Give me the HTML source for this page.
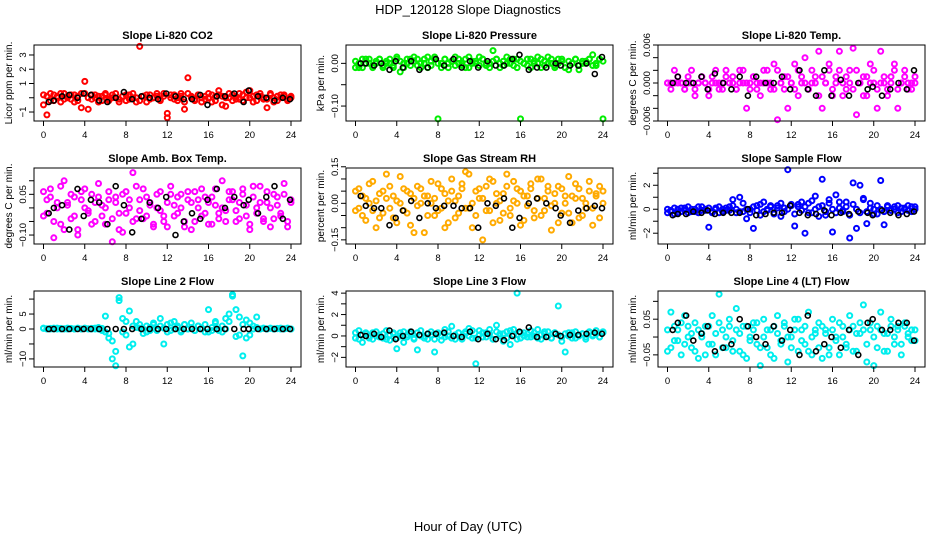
<!DOCTYPE html>
<html><head><meta charset="utf-8"><style>
html,body{margin:0;padding:0;background:#fff}
svg{display:block;font-family:"Liberation Sans",sans-serif}
</style></head><body>
<svg id="chart" width="936" height="540" viewBox="0 0 936 540">
<text x="468" y="14" text-anchor="middle" font-size="13">HDP_120128  Slope Diagnostics</text>
<text x="468" y="531" text-anchor="middle" font-size="13">Hour of Day (UTC)</text>
</svg>
<script>
const hc=[0,0.33,0.67,1,1.33,1.67,2,2.33,2.67,3,3.33,3.67,4,4.33,4.67,5,5.33,5.67,6,6.33,6.67,7,7.33,7.67,8,8.33,8.67,9,9.33,9.67,10,10.33,10.67,11,11.33,11.67,12,12.33,12.67,13,13.33,13.67,14,14.33,14.67,15,15.33,15.67,16,16.33,16.67,17,17.33,17.67,18,18.33,18.67,19,19.33,19.67,20,20.33,20.67,21,21.33,21.67,22,22.33,22.67,23,23.33,23.67,24];
const hb=[0.5,1.0,1.8,2.5,3.3,3.9,4.6,5.4,6.2,7.0,7.8,8.6,9.5,10.3,11.1,11.9,12.8,13.6,14.4,15.2,15.9,16.8,17.6,18.5,19.4,19.9,20.8,21.6,22.4,23.2,23.9];

const co2A=[-0.5,0.1,-0.2,0.2,0.0,-0.3,0.3,0.1,-0.1,0.2,-0.2,0.3,1.15,0.0,-0.1,0.2,-0.3,0.1,0.2,-0.2,0.0,0.3,-0.1,0.1,-0.2,0.2,0.0,-0.3,3.6,0.1,0.2,-0.1,0.0,0.3,-0.2,0.1,-1.1,0.2,-0.1,0.0,0.3,-0.3,1.4,0.1,-0.2,0.2,0.0,-0.1,0.3,-0.3,0.1,0.2,-0.5,0.0,0.3,-0.2,0.1,-0.1,0.2,0.4,0.0,-0.3,0.2,0.1,-0.1,-0.7,0.3,0.0,-0.2,0.2,0.1,-0.1,0.0];
const co2B=[0.2,-1.2,0.3,-0.2,0.1,0.3,-0.1,0.0,0.2,-0.3,0.1,-0.7,0.3,-0.8,0.2,0.0,0.1,-0.2,0.3,-0.1,0.2,0.0,-0.3,0.1,0.2,-0.1,0.3,0.0,-0.2,0.1,-0.3,0.2,0.0,0.1,-0.1,0.3,-1.4,0.0,0.2,-0.2,0.1,-0.8,0.3,0.0,-0.1,0.2,-0.3,0.1,0.0,0.2,-0.2,0.5,0.1,-0.6,0.0,0.2,-0.1,0.3,-0.2,0.0,0.5,0.1,-0.2,0.3,0.0,-0.1,0.2,-0.3,0.1,0.0,0.2,-0.2,0.1];
const co2K=[-0.3,-0.2,0.1,0.2,0.0,0.3,0.2,-0.2,-0.3,0.0,0.4,-0.1,0.1,0.0,-0.1,0.3,0.1,-0.1,-0.1,0.2,-0.5,0.1,0.1,0.3,-0.3,0.5,0.1,0.0,-0.2,0.0,-0.1];

const presA=[-0.01,0.0,-0.01,0.01,0.0,-0.01,0.005,0.01,-0.005,0.0,0.01,-0.01,0.015,-0.02,0.0,0.01,-0.005,0.005,0.01,-0.01,0.0,0.015,-0.005,0.01,-0.13,0.0,0.01,-0.01,0.005,0.015,0.0,-0.005,0.01,-0.01,0.005,0.0,0.015,0.01,-0.005,0.0,0.03,0.01,-0.01,0.005,0.0,0.01,-0.005,0.01,-0.13,0.0,0.01,-0.01,0.005,0.0,0.01,-0.005,0.015,0.0,-0.01,0.01,0.005,-0.01,-0.015,0.0,0.01,-0.005,0.005,0.0,0.01,0.02,-0.005,0.01,-0.13];
const presB=[0.005,-0.01,0.01,0.0,0.01,-0.005,0.0,0.01,-0.01,0.005,0.0,-0.005,0.01,0.005,-0.01,0.0,0.01,0.015,-0.005,0.0,0.01,-0.01,0.005,0.015,0.0,-0.01,0.01,0.0,0.005,-0.005,0.01,0.0,-0.01,0.015,0.0,0.005,-0.005,0.01,0.0,-0.01,0.005,0.01,0.0,-0.005,0.015,0.0,0.01,-0.01,0.005,0.0,-0.005,0.01,0.0,0.015,-0.01,0.005,0.0,0.01,-0.005,0.0,0.01,-0.01,0.005,0.0,0.01,-0.015,0.0,0.005,0.01,-0.005,0.0,0.01,0.005];
const presK=[0.0,0.0,-0.005,0.0,-0.015,0.005,-0.01,0.005,-0.015,-0.01,0.01,-0.005,0.01,-0.01,0.005,-0.01,0.005,-0.005,-0.005,0.01,0.02,-0.015,-0.01,-0.01,0.0,-0.005,-0.005,-0.005,0.0,-0.025,0.015];

const tempA=[0,0,0.002,0,0,-0.001,0.001,0,-0.002,0,0.001,0,-0.001,0,0.002,0,-0.001,0.001,0,0,-0.001,0.002,0,-0.004,0,0.001,-0.001,0,0.002,0,-0.001,0.003,-0.0058,0,0.001,-0.004,0,-0.001,0.002,0,0.004,-0.001,0,0.001,0.005,-0.004,0,0.002,-0.002,0.001,0.005,0,-0.001,0.002,0.0055,-0.005,0,0.001,-0.002,0.003,0,-0.004,0.005,0,-0.001,0.001,0.003,-0.004,0,0.002,-0.001,0,0.001];
const tempB=[0,-0.001,0,0.001,0,-0.001,0,0.002,-0.001,0,0.001,0,-0.002,0.001,0,-0.001,0,0.002,0,0.001,-0.001,0,0.002,0,-0.001,0.001,0,-0.002,0,0.002,0,-0.001,0.002,0,-0.001,0.001,0,0.003,-0.002,0.001,0,-0.001,0.002,0,-0.002,0.001,0,0.003,-0.001,0,0.002,-0.002,0.001,0,-0.001,0.002,0,-0.002,0.001,0,0.002,-0.001,0,0.001,-0.002,0,0.002,-0.001,0,0.001,0,-0.001,0];
const tempK=[0,0.001,0,0,0.001,-0.001,0.0015,0,-0.001,0.001,-0.002,0.001,0,0,0.001,-0.001,0.002,-0.001,-0.002,0.002,-0.002,0.0005,-0.002,0,-0.001,-0.0006,-0.002,-0.001,0,-0.001,0.002];

const ambA=[-0.03,0.03,0.07,-0.11,0.0,-0.06,0.1,0.02,-0.04,0.04,-0.08,0.06,0.0,-0.02,0.05,-0.05,0.09,0.01,-0.06,0.03,-0.125,0.04,-0.02,-0.09,0.06,0.0,0.13,-0.04,0.03,0.07,-0.03,0.01,-0.07,0.05,-0.01,-0.05,0.02,0.08,-0.03,0.04,0.0,-0.07,0.06,0.02,-0.05,0.03,0.07,-0.02,-0.06,0.04,0.01,-0.04,0.1,-0.01,0.06,0.03,-0.05,0.02,0.07,-0.03,-0.08,0.04,0.0,0.08,-0.04,0.02,-0.07,0.05,0.01,-0.03,0.09,-0.05,0.03];
const ambB=[0.06,-0.02,0.04,-0.05,0.02,0.08,-0.08,0.01,0.05,-0.03,-0.1,0.03,0.07,-0.01,-0.06,0.02,0.04,-0.03,0.0,0.06,-0.04,0.02,-0.08,0.05,-0.02,0.03,-0.05,0.08,-0.01,-0.04,0.04,0.02,-0.06,0.0,0.06,-0.03,-0.07,0.05,0.01,-0.02,0.05,-0.05,0.03,-0.08,0.06,0.0,-0.03,0.04,0.02,-0.06,0.07,-0.02,0.0,-0.05,0.03,0.06,-0.01,-0.04,0.05,0.01,-0.06,0.08,-0.02,0.02,-0.05,0.06,0.0,-0.04,0.04,-0.02,0.05,-0.07,0.02];
const ambK=[-0.02,0.0,0.01,-0.08,0.07,-0.03,0.03,0.02,-0.06,0.08,0.01,-0.09,-0.04,0.02,0.0,0.04,-0.1,-0.05,-0.02,-0.04,0.03,0.07,0.0,0.04,0.01,0.03,-0.02,0.04,0.08,-0.04,0.03];

const rhA=[0.05,-0.02,0.03,-0.07,0.0,0.09,-0.1,0.04,-0.04,0.02,0.07,-0.06,0.01,0.11,-0.03,0.05,-0.09,0.02,-0.01,0.06,-0.12,0.03,0.0,-0.05,0.08,-0.02,0.04,-0.08,0.1,0.01,-0.04,0.06,0.13,-0.02,-0.1,0.05,0.02,-0.15,0.07,-0.03,0.09,0.0,-0.07,0.04,0.12,-0.05,0.01,0.06,-0.09,0.03,-0.01,0.08,-0.06,0.02,0.1,-0.03,0.05,-0.11,0.0,0.07,-0.04,0.03,0.11,-0.08,0.02,0.06,-0.05,0.0,0.09,-0.02,0.04,-0.06,0.05];
const rhB=[-0.03,0.06,-0.05,0.02,0.08,-0.03,0.01,-0.06,0.05,0.12,-0.02,0.03,-0.08,0.0,0.06,-0.04,0.04,-0.12,0.07,0.0,0.03,-0.05,0.09,0.02,-0.03,0.06,-0.1,0.01,0.05,-0.06,0.03,0.08,-0.02,0.12,0.0,-0.05,0.06,0.02,-0.03,0.1,-0.08,0.04,0.01,-0.04,0.07,-0.02,0.09,0.0,0.05,-0.07,0.03,0.06,-0.03,0.1,-0.05,0.02,0.07,-0.01,0.04,-0.08,0.06,0.0,-0.04,0.03,0.08,-0.06,0.02,-0.02,0.05,-0.09,0.03,0.07,0.0];
const rhK=[0.03,-0.01,-0.02,-0.02,-0.09,-0.06,-0.03,0.01,-0.06,0.0,-0.02,-0.01,-0.01,-0.02,-0.02,-0.1,0.0,-0.01,0.02,-0.1,-0.06,0.0,0.02,0.0,-0.02,-0.05,-0.08,-0.03,-0.02,-0.01,-0.02];

const sfA=[-0.3,-0.1,-0.4,0.0,-0.2,0.1,-0.3,0.0,-0.2,0.2,-0.1,0.0,-1.5,-0.2,0.1,-0.3,0.0,-0.1,0.2,0.8,-0.3,1.0,-0.2,-0.8,0.0,-1.6,0.3,-0.5,0.6,-0.1,0.2,-0.4,0.3,-0.6,0.1,3.3,0.4,-1.4,0.2,0.6,-2.0,0.5,-0.3,1.1,0.2,2.5,-0.5,0.8,-1.9,1.2,0.1,-0.2,0.6,-2.4,2.2,-1.6,2.0,0.8,-1.2,0.5,0.0,-0.4,2.4,-1.3,0.3,-0.1,0.2,-0.3,0.1,0.0,0.3,-0.2,0.2];
const sfB=[0.0,-0.2,0.1,-0.3,0.1,-0.1,0.2,-0.2,0.0,-0.3,0.2,-0.1,0.1,-0.3,0.0,0.2,-0.2,0.1,-0.1,0.3,0.0,-0.2,0.5,0.0,-0.3,0.2,-0.1,0.4,-0.2,0.0,0.3,-0.3,0.1,0.5,-0.2,0.0,0.3,-0.4,0.4,-0.1,0.2,-0.3,0.7,0.0,-0.6,0.3,-0.2,0.5,0.0,-0.3,0.6,-0.1,0.2,-0.5,0.4,0.0,-0.3,0.9,-0.2,0.1,-0.4,0.3,0.0,-0.2,0.2,-0.1,0.0,0.3,-0.2,0.1,-0.1,0.2,0.0];
const sfK=[-0.5,-0.4,-0.4,-0.2,-0.3,-0.1,-0.4,-0.3,-0.3,-0.3,0.0,-0.5,-0.4,-0.3,-0.3,0.3,-0.3,-0.5,-0.4,-0.1,-0.5,-0.3,-0.4,-0.2,-0.3,-0.5,-0.1,-0.3,-0.5,-0.4,-0.2];

const l2A=[0.3,0.0,0.2,0.0,0.3,0.0,0.1,0.0,0.2,0.0,0.3,0.0,0.2,0.1,0.0,0.3,0.0,0.2,4.3,-1.5,-4.0,-7.5,9.5,3.5,-2.0,6.0,-5.0,2.5,0.3,-1.5,1.0,-0.5,2.0,0.0,3.5,-5.0,1.5,-0.5,2.5,0.5,-1.0,1.5,0.0,2.0,-0.5,1.0,0.3,-1.0,6.5,-0.5,2.0,0.0,-1.0,3.5,2.5,11.5,-2.5,4.0,-9.0,3.0,-2.0,1.0,4.0,0.0,0.3,0.0,0.2,0.0,0.1,0.3,0.0,0.2,0.0];
const l2B=[0.2,0.1,0.0,0.3,0.0,0.2,0.0,0.3,0.1,0.0,0.2,0.0,0.3,0.0,0.2,0.0,0.5,-0.5,-1.0,-3.0,-10.0,-12.3,10.5,-1.0,2.5,-6.0,1.0,0.5,1.5,0.0,-1.0,0.5,1.5,-0.5,1.0,0.3,-1.0,2.0,0.0,1.0,-0.5,1.5,0.0,0.5,-0.5,1.0,0.0,1.5,-1.0,0.5,2.5,-0.5,1.0,0.0,5.0,11.0,6.5,-2.0,1.5,-3.0,2.0,0.0,0.5,0.0,0.2,0.0,0.3,0.0,0.2,0.0,0.1,0.3,0.0];
const l2K=[0,0,0,0,0,0,0,0,0,0,0,0,0,0,0,0,0,0,0,0,0,0,0,0,0,0,0,0,0,0,0];

const l3A=[-0.2,0.5,-0.6,0.3,0.0,-0.3,0.4,0.1,-0.2,0.5,-0.4,0.2,-1.2,0.3,-0.6,0.1,0.4,-0.2,-1.3,0.5,0.0,-0.3,0.4,-1.5,0.2,-0.4,0.6,0.0,0.9,-0.3,0.3,-0.1,0.4,0.7,-0.2,-2.6,0.5,-0.1,0.3,0.6,-0.3,1.0,0.2,-0.5,0.4,-0.8,0.6,4.0,-0.2,0.3,-0.1,0.5,0.0,0.6,-0.3,0.2,0.4,-0.2,0.3,2.8,-0.5,-1.5,0.3,-0.2,0.4,0.0,0.2,-0.3,0.4,0.1,0.5,-0.1,0.3];
const l3B=[0.3,-0.3,0.1,0.2,-0.2,0.3,0.0,-0.1,0.2,-0.3,0.1,0.3,-0.2,0.0,0.4,-0.1,0.2,-0.3,0.3,0.0,-0.2,0.2,0.1,-0.3,0.3,0.0,-0.1,0.4,-0.2,0.1,0.3,-0.3,0.2,0.0,0.5,-0.2,0.1,0.3,-0.1,0.2,-0.3,0.4,0.0,0.2,-0.2,0.5,0.1,-0.3,0.3,0.0,0.2,-0.1,0.3,-0.2,0.1,0.4,0.0,-0.2,0.3,0.1,-0.1,0.2,0.0,0.3,-0.2,0.1,0.2,-0.1,0.3,0.0,0.2,-0.1,0.4];
const l3K=[0.1,0.0,0.2,-0.1,0.5,-0.3,0.0,0.4,0.1,0.2,0.2,0.3,0.0,-0.1,0.4,-0.3,0.2,-0.3,-0.4,0.0,0.4,0.8,-0.1,-0.1,0.2,0.0,0.1,0.1,0.2,0.3,0.2];

const l4A=[-0.04,0.07,-0.01,0.02,-0.05,0.06,0.0,-0.03,0.04,-0.06,0.01,0.03,-0.02,0.06,-0.05,0.12,0.02,-0.03,0.05,-0.01,0.08,-0.04,0.03,-0.06,0.0,0.04,-0.02,-0.08,0.05,-0.03,0.02,-0.06,0.06,-0.01,0.03,-0.07,0.0,0.05,-0.04,0.02,-0.02,0.07,-0.05,0.01,0.04,-0.06,0.02,-0.03,0.05,0.0,-0.05,0.03,-0.02,0.06,-0.04,0.01,0.04,0.09,-0.07,0.02,-0.08,0.03,0.07,-0.04,0.01,0.05,-0.02,0.03,-0.05,0.04,0.0,0.02,-0.01];
const l4B=[0.02,-0.03,0.03,-0.01,0.04,-0.02,0.03,0.01,-0.04,0.02,0.0,-0.05,0.03,-0.02,0.01,0.04,-0.03,0.0,0.03,-0.04,0.02,0.01,-0.05,0.03,-0.01,0.02,0.04,-0.03,0.0,0.02,-0.05,0.03,0.01,-0.02,0.04,0.0,-0.03,0.02,0.05,-0.01,0.03,-0.04,0.0,0.02,-0.03,0.03,0.01,-0.05,0.02,-0.01,0.04,0.0,-0.03,0.02,0.03,-0.04,0.01,0.02,-0.02,0.04,0.0,-0.03,0.02,0.01,-0.04,0.03,0.0,0.02,-0.02,0.03,0.01,-0.01,0.02];
const l4K=[0.02,0.04,0.06,-0.01,0.01,0.03,-0.04,-0.03,-0.02,0.05,0.03,0.0,-0.02,0.03,-0.01,0.02,-0.05,0.06,-0.04,-0.02,0.0,-0.03,0.02,-0.05,0.04,0.05,0.02,0.02,0.04,0.04,-0.01];

const xTicks=[0,4,8,12,16,20,24];

const panels=[
 {name:'co2',title:'Slope Li-820 CO2',ylab:'Licor ppm per min.',col:0,row:0,ymin:-1.63,ymax:3.7,ticks:[-1,0,1,2,3],labels:['-1','','1','2','3'],color:'#ff0000',a:co2A,b:co2B,k:co2K},
 {name:'pressure',title:'Slope Li-820 Pressure',ylab:'kPa per min.',col:1,row:0,ymin:-0.135,ymax:0.043,ticks:[-0.1,-0.05,0],labels:['-0.10','','0.00'],color:'#00ee00',a:presA,b:presB,k:presK},
 {name:'temp',title:'Slope Li-820 Temp.',ylab:'degrees C per min.',col:2,row:0,ymin:-0.006,ymax:0.006,ticks:[-0.006,-0.004,-0.002,0,0.002,0.004,0.006],labels:['-0.006','','','0.000','','','0.006'],color:'#ff00ff',a:tempA,b:tempB,k:tempK},
 {name:'amb-box-temp',title:'Slope Amb. Box Temp.',ylab:'degrees C per min.',col:0,row:1,ymin:-0.133,ymax:0.147,ticks:[-0.1,-0.05,0,0.05,0.1],labels:['-0.10','','','0.05',''],color:'#ff00ff',a:ambA,b:ambB,k:ambK},
 {name:'gas-stream-rh',title:'Slope Gas Stream RH',ylab:'percent per min.',col:1,row:1,ymin:-0.167,ymax:0.145,ticks:[-0.15,-0.1,-0.05,0,0.05,0.1,0.15],labels:['-0.15','','','0.00','','','0.15'],color:'#ffaa00',a:rhA,b:rhB,k:rhK},
 {name:'sample-flow',title:'Slope Sample Flow',ylab:'ml/min per min.',col:2,row:1,ymin:-2.9,ymax:3.44,ticks:[-2,-1,0,1,2,3],labels:['-2','','0','','2',''],color:'#0000ff',a:sfA,b:sfB,k:sfK},
 {name:'line2-flow',title:'Slope Line 2 Flow',ylab:'ml/min per min.',col:0,row:2,ymin:-12.7,ymax:12.7,ticks:[-10,-5,0,5,10],labels:['-10','','0','5',''],color:'#00eeee',a:l2A,b:l2B,k:l2K},
 {name:'line3-flow',title:'Slope Line 3 Flow',ylab:'ml/min per min.',col:1,row:2,ymin:-2.9,ymax:4.2,ticks:[-2,-1,0,1,2,3,4],labels:['-2','','0','','2','','4'],color:'#00eeee',a:l3A,b:l3B,k:l3K},
 {name:'line4-flow',title:'Slope Line 4 (LT) Flow',ylab:'ml/min per min.',col:2,row:2,ymin:-0.084,ymax:0.129,ticks:[-0.05,0,0.05,0.1],labels:['-0.05','','0.05',''],color:'#00eeee',a:l4A,b:l4B,k:l4K}
];

const NS='http://www.w3.org/2000/svg';
const svg=document.getElementById('chart');
function mk(tag,attrs,parent){const e=document.createElementNS(NS,tag);for(const k in attrs)e.setAttribute(k,attrs[k]);(parent||svg).appendChild(e);return e;}

panels.forEach(p=>{
  const bx=34+p.col*312, by=45+p.row*123, bw=267, bh=76;
  const g=mk('g',{});
  
  
  const xs=h=>bx+9.5+h/24*247.5;
  const ys=v=>by+bh-(v-p.ymin)/(p.ymax-p.ymin)*bh;
  const t=mk('text',{x:bx+bw/2,y:by-6,'text-anchor':'middle','font-size':'11','font-weight':'bold'},g);
  t.textContent=p.title;
  
  
  const yl=mk('text',{x:0,y:0,'text-anchor':'middle','font-size':'10',transform:`translate(${bx-22},${by+bh/2}) rotate(-90)`},g);
  yl.textContent=p.ylab;
  
  
  const pts=mk('g',{fill:'none'},g);
  
  
  [[p.a,p.color],[p.b,p.color],[p.k,'#000']].forEach(([vals,c],si)=>{
    const hrs=si===2?hb:hc;
    const n=Math.min(hrs.length,vals.length);
    for(let i=0;i<n;i++){
      const cEl=mk('circle',{cx:xs(hrs[i]).toFixed(1),cy:ys(vals[i]).toFixed(1),r:'2.5',stroke:c,'stroke-width':si===2?'1.6':'2'},pts);
      
      
    }
  });
  const box=mk('rect',{x:bx,y:by,width:bw,height:bh,fill:'none',stroke:'#000','stroke-width':'1'},g);
  
  
  xTicks.forEach(h=>{
    const x=xs(h);
    mk('line',{x1:x,x2:x,y1:by+bh,y2:by+bh+5,stroke:'#000'},g);
    const tl=mk('text',{x:x,y:by+bh+17,'text-anchor':'middle','font-size':'9.5'},g);
    tl.textContent=h;
    
    
  });
  p.ticks.forEach((v,i)=>{
    const y=ys(v);
    mk('line',{x1:bx-5,x2:bx,y1:y,y2:y,stroke:'#000'},g);
    if(p.labels[i]){
      const tl=mk('text',{x:0,y:0,'text-anchor':'middle','font-size':'9.5',transform:`translate(${bx-8},${y}) rotate(-90)`},g);
      tl.textContent=p.labels[i].replace('-','\u2212');
      
      
    }
  });
});
</script>
</body></html>
